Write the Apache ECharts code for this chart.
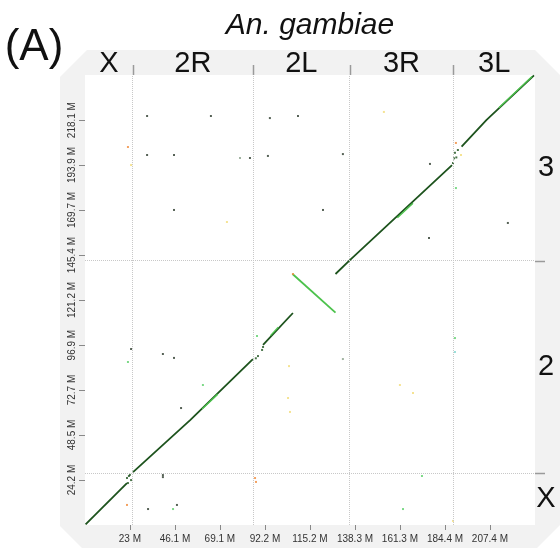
<!DOCTYPE html>
<html>
<head>
<meta charset="utf-8">
<script src="https://cdn.jsdelivr.net/npm/echarts@6/dist/echarts.min.js"></script>
<style>
html,body{margin:0;padding:0;background:#fff;}
#chart{width:560px;height:550px;}
</style>
</head>
<body>
<div id="chart"></div>
<script>
// ---- Data (Mb) ----
const titleText = 'An. gambiae';
const panelLabel = '(A)';
const xChroms = ['X', '2R', '2L', '3R', '3L'];
const xChromEnds = [24.4, 86.1, 135.5, 188.7, 230.5];
const yChroms = ['X', '2', '3'];
const yChromEnds = [28.0, 142.4, 242.4];
const xTicks = [23.0, 46.1, 69.1, 92.2, 115.2, 138.3, 161.3, 184.4, 207.4];
const yTicks = [24.2, 48.5, 72.7, 96.9, 121.2, 145.4, 169.7, 193.9, 218.1];

// synteny blocks (dark green, collinear)
const blockX = [[0.3, 0.3], [21.5, 22.6]];
const block2R = [[24.6, 28.5], [54.0, 56.6], [86.0, 89.4]];
const block2La = [[91.2, 97.0], [106.5, 114.2]];
const block3R = [[128.3, 135.2], [135.4, 142.4], [188.0, 193.9]];
const block3L = [[192.9, 203.8], [205.7, 218.2], [230.0, 242.2]];
// inverted block (light green)
const block2Linv = [[106.3, 135.2], [128.3, 114.4]];
// light green stretches on the diagonal
const lightA = [[60.0, 62.5], [68.0, 70.5]];
const lightB = [[160.0, 165.5], [168.0, 173.3]];
const lightC = [[212.0, 224.8], [229.0, 241.6]];
const lightD = [[95.0, 102.0], [99.0, 106.5]];
// small jogs at breakpoints
const jogDots = [[21.5, 25.3], [22.5, 26.4], [23.6, 24.2], [22.0, 22.6], [23.0, 27.0],
  [88.6, 91.0], [90.7, 94.3], [91.2, 95.9], [87.5, 89.8],
  [188.5, 195.0], [189.0, 197.5], [189.5, 200.5], [190.2, 198.0], [191.0, 202.0]];

// scattered off-diagonal matches
const darkDots = [[31.8, 220.3], [64.5, 220.3], [94.7, 219.2], [109.1, 220.3], [31.8, 199.3],
  [45.6, 199.3], [84.5, 197.7], [93.7, 198.8], [132.1, 199.8], [45.6, 169.7], [121.9, 169.7],
  [176.2, 154.6], [216.6, 162.7], [176.7, 194.5], [23.6, 94.8], [39.9, 92.1], [45.6, 90.0],
  [49.2, 63.0], [39.9, 26.9], [47.1, 10.8], [32.3, 8.6], [39.9, 25.8]];
const greyDots = [[79.4, 197.7], [132.1, 89.4]];
const greenDots = [[190.0, 181.5], [22.0, 87.8], [60.4, 75.4], [88.1, 101.8], [189.5, 100.7],
  [45.1, 8.6], [162.9, 8.6], [172.6, 26.4]];
const orangeDots = [[190.0, 205.8], [87.1, 25.3], [87.6, 23.2], [21.5, 10.8], [106.5, 135.2], [22.0, 203.6]];
const yellowDots = [[72.7, 163.2], [192.6, 199.3], [104.5, 85.6], [104.0, 68.4], [105.0, 60.9],
  [161.3, 75.4], [168.0, 71.1], [188.5, 2.2], [23.6, 193.9], [153.1, 222.5]];
const cyanDots = [[189.5, 93.2]];

// ---- Chart ----
const chart = echarts.init(document.getElementById('chart'), null, {renderer: 'canvas'});
const narrow = '"Liberation Sans Narrow", "Arial Narrow", "Liberation Sans", sans-serif';
const DARK = '#1d531d', LIGHT = '#4cc24c';

function lineSeries(data, color, width) {
  return {type: 'line', data: data, showSymbol: false, symbol: 'none', silent: true,
    lineStyle: {color: color, width: width}, z: 3};
}
function dotSeries(data, color, size) {
  return {type: 'scatter', data: data, symbol: 'rect', symbolSize: size, silent: true,
    itemStyle: {color: color}, z: 4};
}

const boundaryLines = xChromEnds.slice(0, -1).map(v => ({xAxis: v}))
  .concat(yChromEnds.slice(0, -1).map(v => ({yAxis: v})));

const option = {
  animation: false,
  grid: {left: 85, top: 75, width: 450, height: 450, show: false},
  xAxis: {
    type: 'value', min: 0, max: xChromEnds[xChromEnds.length - 1],
    axisLine: {show: false}, splitLine: {show: false},
    axisTick: {show: true, customValues: xTicks, length: 5, lineStyle: {color: '#888', width: 1}},
    axisLabel: {show: true, customValues: xTicks, formatter: v => v + ' M', margin: 9,
      fontSize: 10, fontFamily: narrow, color: '#333'}
  },
  yAxis: {
    type: 'value', min: 0, max: yChromEnds[yChromEnds.length - 1],
    axisLine: {show: false}, splitLine: {show: false},
    axisTick: {show: true, customValues: yTicks, length: 6, lineStyle: {color: '#888', width: 1}},
    axisLabel: {show: true, customValues: yTicks, formatter: v => v + ' M', margin: 8, rotate: 90,
      fontSize: 10, fontFamily: narrow, color: '#333'}
  },
  series: [
    {type: 'line', data: [], silent: true,
      markLine: {silent: true, symbol: ['none', 'none'], label: {show: false},
        lineStyle: {type: 'dotted', color: '#c8c8c8', width: 1}, data: boundaryLines, animation: false}},
    lineSeries(blockX, DARK, 1.8),
    lineSeries(block2R, DARK, 1.8),
    lineSeries(block2La, DARK, 1.8),
    lineSeries(block3R, DARK, 1.8),
    lineSeries(block3L, DARK, 1.8),
    lineSeries(block2Linv, LIGHT, 1.8),
    lineSeries(lightA, LIGHT, 1.4),
    lineSeries(lightB, LIGHT, 1.4),
    lineSeries(lightC, LIGHT, 1.4),
    lineSeries(lightD, LIGHT, 1.4),
    dotSeries(jogDots, DARK, 2),
    dotSeries(darkDots, '#2a3a2a', 2),
    dotSeries(greyDots, '#8aa08a', 2),
    dotSeries(greenDots, '#5ccf6a', 2),
    dotSeries(orangeDots, '#f08a3a', 2),
    dotSeries(yellowDots, '#f3dc78', 2),
    dotSeries(cyanDots, '#7fd6d0', 2)
  ]
};
chart.setOption(option);

// ---- Frame, labels ----
const px = x => chart.convertToPixel({gridIndex: 0}, [x, 0])[0];
const py = y => chart.convertToPixel({gridIndex: 0}, [0, y])[1];
const L = px(0), R = px(xChromEnds[xChromEnds.length - 1]);
const B = py(0), T = py(yChromEnds[yChromEnds.length - 1]);

const g = [];
g.push({type: 'polygon', z: -10, silent: true,
  shape: {points: [[L - 25, T + 2], [L + 2, T - 25], [R, T - 25], [R + 25, T], [R + 25, B],
    [R + 2, B + 23], [L - 3, B + 23], [L - 25, B + 1]]},
  style: {fill: '#f2f2f2'}});
g.push({type: 'rect', z: -9, silent: true, shape: {x: L, y: T, width: R - L, height: B - T}, style: {fill: '#fff'}});

let prev = 0;
xChroms.forEach((name, i) => {
  const end = xChromEnds[i];
  const cx = (px(prev) + px(end)) / 2;
  g.push({type: 'text', z: 10, silent: true, style: {text: name, x: cx, y: T - 11, align: 'center', verticalAlign: 'middle',
    font: '29px "Liberation Sans", Arial, sans-serif', fill: '#111'}});
  if (i < xChroms.length - 1) {
    const bx = Math.round(px(end)) + 0.5;
    g.push({type: 'line', z: 10, silent: true, shape: {x1: bx, y1: T - 10, x2: bx, y2: T}, style: {stroke: '#9a9a9a', lineWidth: 1.5}});
  }
  prev = end;
});
prev = 0;
yChroms.forEach((name, i) => {
  const end = yChromEnds[i];
  const cy = (py(prev) + py(end)) / 2;
  g.push({type: 'text', z: 10, silent: true, style: {text: name, x: R + 11, y: cy, align: 'center', verticalAlign: 'middle',
    font: '29px "Liberation Sans", Arial, sans-serif', fill: '#111'}});
  if (i < yChroms.length - 1) {
    const by = Math.round(py(end)) + 0.5;
    g.push({type: 'line', z: 10, silent: true, shape: {x1: R, y1: by, x2: R + 10, y2: by}, style: {stroke: '#9a9a9a', lineWidth: 1.5}});
  }
  prev = end;
});
g.push({type: 'text', z: 10, silent: true, style: {text: titleText, x: 310, y: 26, align: 'center', verticalAlign: 'middle',
  font: 'italic 30px "Liberation Sans", Arial, sans-serif', fill: '#111'}});
g.push({type: 'text', z: 10, silent: true, style: {text: panelLabel, x: 34, y: 48, align: 'center', verticalAlign: 'middle',
  font: '44px "Liberation Sans", Arial, sans-serif', fill: '#111'}});

chart.setOption({graphic: {elements: g}});
</script>
</body>
</html>
